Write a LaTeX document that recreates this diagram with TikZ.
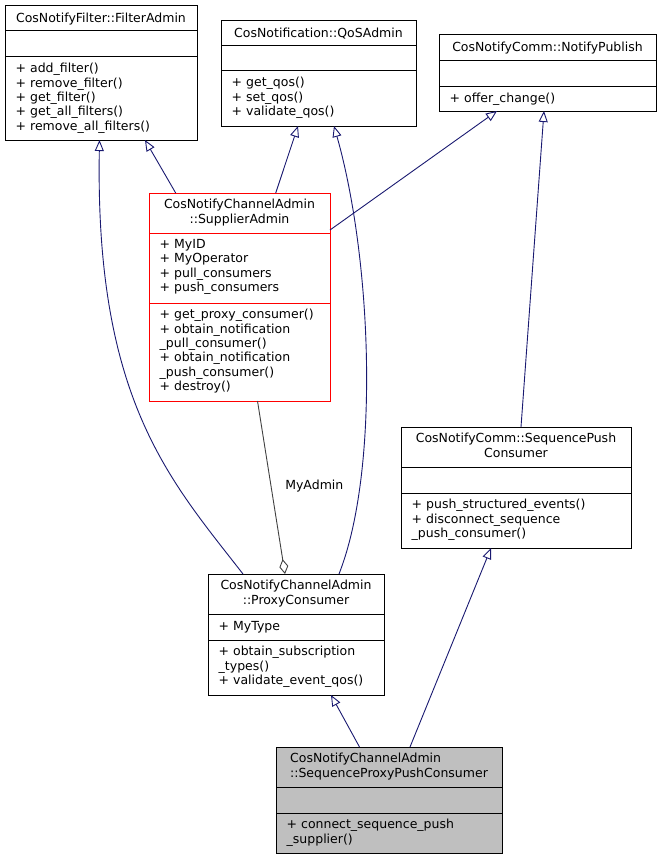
\documentclass[tikz,border=0pt]{standalone}
\usepackage{fontspec}
\setmainfont{DejaVu Sans}
\usetikzlibrary{arrows.meta}
\definecolor{edgeblue}{HTML}{191970}
\definecolor{agggray}{HTML}{404040}
\definecolor{boxred}{HTML}{FF0000}
\definecolor{boxgray}{HTML}{BFBFBF}
\newcommand\umlfont{\fontsize{12.5}{14.4}\selectfont}
\tikzset{
  cls/.style={draw=black, line width=1pt, fill=white, anchor=north west, inner sep=0pt, outer sep=0pt},
  clsred/.style={cls, draw=boxred},
  clsgray/.style={cls, fill=boxgray},
  divline/.style={draw=black, line width=1pt},
  divred/.style={draw=boxred, line width=1pt},
  ttl/.style={font=\umlfont, anchor=north, align=center, inner sep=0pt, execute at begin node=\strut},
  ttlleft/.style={ttl, align=left},
  mem/.style={font=\umlfont, anchor=north west, align=left, inner sep=0pt, execute at begin node=\strut},
  lbl/.style={font=\umlfont, anchor=base, inner sep=0pt},
  inh/.style={draw=edgeblue, line width=0.9pt, -{Triangle[open, length=11pt, width=9pt]}},
  agg/.style={draw=agggray, line width=0.9pt, -{Diamond[open, length=15pt, width=9pt]}},
}
\begin{document}
\begin{tikzpicture}[x=1pt, y=-1pt]
\useasboundingbox (0,0) rectangle (661,859);

% ---------- CosNotifyFilter::FilterAdmin
\node[cls, minimum width=192pt, minimum height=134pt] (fa) at (5,6) {};
\draw[divline] ([yshift=-25pt]fa.north west) -- ([yshift=-25pt]fa.north east);
\draw[divline] ([yshift=-51pt]fa.north west) -- ([yshift=-51pt]fa.north east);
\node[ttl] (fa-t) at ([yshift=-5.92pt]fa.north) {CosNotifyFilter::FilterAdmin};
\node[mem] (fa-m) at ([xshift=10.5pt, yshift=-56.92pt]fa.north west)
  {+ add\_filter()\\+ remove\_filter()\\+ get\_filter()\\+ get\_all\_filters()\\+ remove\_all\_filters()};

% ---------- CosNotification::QoSAdmin
\node[cls, minimum width=195pt, minimum height=105pt] (qos) at (221,21) {};
\draw[divline] ([yshift=-25pt]qos.north west) -- ([yshift=-25pt]qos.north east);
\draw[divline] ([yshift=-50pt]qos.north west) -- ([yshift=-50pt]qos.north east);
\node[ttl] (qos-t) at ([yshift=-5.92pt]qos.north) {CosNotification::QoSAdmin};
\node[mem] (qos-m) at ([xshift=10.5pt, yshift=-55.92pt]qos.north west)
  {+ get\_qos()\\+ set\_qos()\\+ validate\_qos()};

% ---------- CosNotifyComm::NotifyPublish
\node[cls, minimum width=217pt, minimum height=76pt] (np) at (439,35) {};
\draw[divline] ([yshift=-26pt]np.north west) -- ([yshift=-26pt]np.north east);
\draw[divline] ([yshift=-51pt]np.north west) -- ([yshift=-51pt]np.north east);
\node[ttl] (np-t) at ([yshift=-5.92pt]np.north) {CosNotifyComm::NotifyPublish};
\node[mem] (np-m) at ([xshift=10.5pt, yshift=-56.92pt]np.north west)
  {+ offer\_change()};

% ---------- CosNotifyChannelAdmin::SupplierAdmin
\node[clsred, minimum width=181pt, minimum height=208pt] (sa) at (149,193) {};
\draw[divred] ([yshift=-40pt]sa.north west) -- ([yshift=-40pt]sa.north east);
\draw[divred] ([yshift=-110pt]sa.north west) -- ([yshift=-110pt]sa.north east);
\node[ttl] (sa-t) at ([yshift=-5.92pt]sa.north) {CosNotifyChannelAdmin\\::SupplierAdmin};
\node[mem] (sa-a) at ([xshift=10.5pt, yshift=-45.92pt]sa.north west)
  {+ MyID\\+ MyOperator\\+ pull\_consumers\\+ push\_consumers};
\node[mem] (sa-m) at ([xshift=10.5pt, yshift=-115.92pt]sa.north west)
  {+ get\_proxy\_consumer()\\+ obtain\_notification\\\_pull\_consumer()\\+ obtain\_notification\\\_push\_consumer()\\+ destroy()};

% ---------- CosNotifyComm::SequencePushConsumer
\node[cls, minimum width=230pt, minimum height=121pt] (spc) at (401,427) {};
\draw[divline] ([yshift=-40pt]spc.north west) -- ([yshift=-40pt]spc.north east);
\draw[divline] ([yshift=-66pt]spc.north west) -- ([yshift=-66pt]spc.north east);
\node[ttl] (spc-t) at ([yshift=-5.92pt]spc.north) {CosNotifyComm::SequencePush\\Consumer};
\node[mem] (spc-m) at ([xshift=10.5pt, yshift=-71.92pt]spc.north west)
  {+ push\_structured\_events()\\+ disconnect\_sequence\\\_push\_consumer()};

% ---------- CosNotifyChannelAdmin::ProxyConsumer
\node[cls, minimum width=176pt, minimum height=121pt] (pc) at (208,574) {};
\draw[divline] ([yshift=-40pt]pc.north west) -- ([yshift=-40pt]pc.north east);
\draw[divline] ([yshift=-66pt]pc.north west) -- ([yshift=-66pt]pc.north east);
\node[ttl] (pc-t) at ([yshift=-5.92pt]pc.north) {CosNotifyChannelAdmin\\::ProxyConsumer};
\node[mem] (pc-a) at ([xshift=10.5pt, yshift=-45.92pt]pc.north west) {+ MyType};
\node[mem] (pc-m) at ([xshift=10.5pt, yshift=-71.92pt]pc.north west)
  {+ obtain\_subscription\\\_types()\\+ validate\_event\_qos()};

% ---------- CosNotifyChannelAdmin::SequenceProxyPushConsumer
\node[clsgray, minimum width=226pt, minimum height=106pt] (sppc) at (276,747) {};
\draw[divline] ([yshift=-40pt]sppc.north west) -- ([yshift=-40pt]sppc.north east);
\draw[divline] ([yshift=-66pt]sppc.north west) -- ([yshift=-66pt]sppc.north east);
\node[ttlleft] (sppc-t) at ([yshift=-5.92pt]sppc.north) {CosNotifyChannelAdmin\\::SequenceProxyPushConsumer};
\node[mem] (sppc-m) at ([xshift=10.5pt, yshift=-71.92pt]sppc.north west)
  {+ connect\_sequence\_push\\\_supplier()};

% ---------- connectors
\draw[inh] ([xshift=35pt]pc.north west) .. controls (170,480) and (95,400) .. ([xshift=94.5pt]fa.south west);
\draw[inh] ([xshift=26.7pt]sa.north west) -- ([xshift=140pt]fa.south west);
\draw[inh] ([xshift=126.7pt]sa.north west) -- ([xshift=77pt]qos.south west);
\draw[inh] ([xshift=131pt]pc.north west) .. controls (380,470) and (372,260) .. ([xshift=113pt]qos.south west);
\draw[inh] ([yshift=-37pt]sa.north east) -- ([xshift=58pt]np.south west);
\draw[inh] ([xshift=120pt]spc.north west) -- ([xshift=105pt]np.south west);
\draw[agg] ([xshift=108.5pt]sa.south west) -- ([xshift=77pt]pc.north west);
\node[lbl] (myadmin) at (314.3,489) {MyAdmin};
\draw[inh] ([xshift=83.5pt]sppc.north west) -- ([xshift=123pt]pc.south west);
\draw[inh] ([xshift=134pt]sppc.north west) -- ([xshift=90pt]spc.south west);
\end{tikzpicture}
\end{document}
